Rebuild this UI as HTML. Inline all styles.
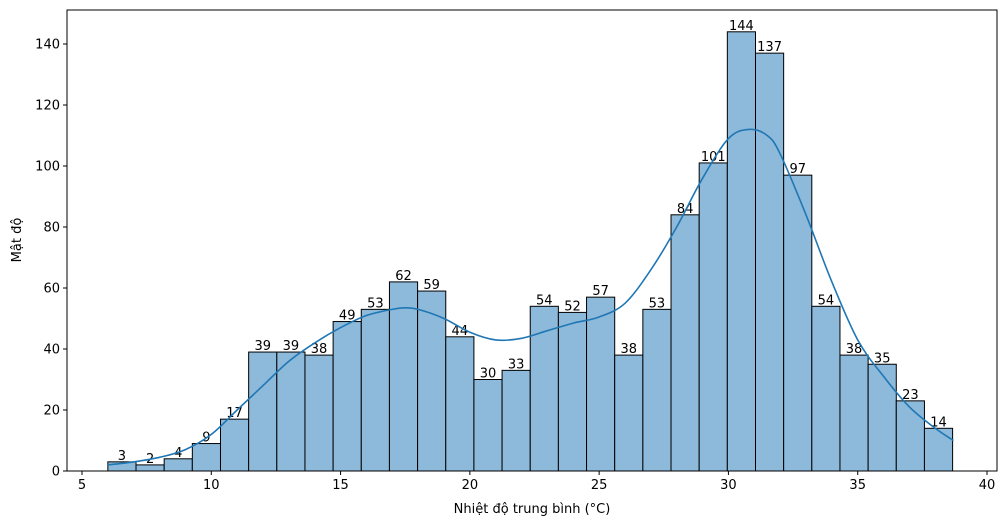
<!DOCTYPE html>
<html><head><meta charset="utf-8">
<style>
html,body{margin:0;padding:0;background:#fff;}
svg{display:block;font-family:"DejaVu Sans","Liberation Sans",sans-serif;}
</style></head>
<body>
<svg id="chart" width="1005" height="525"></svg>
<script>
const binStart = 6.0;
const binWidth = 1.089;
const counts = [3,2,4,9,17,39,39,38,49,53,62,59,44,30,33,54,52,57,38,53,84,101,144,137,97,54,38,35,23,14];
const kdeX = [6.0,7,8,9,10,11,12,13,14,15,16,17,17.5,18,19,20,21,22,23,24,25,26,27,28,29,30,30.8,31.5,32,33,34,35,36,37,38,38.7];
const kdeY = [2,3,4.5,7,12,20,28,36,42,47,51,53,53.5,53,50,45.5,43,43.5,46,48.5,50.5,55,66,80,96,109,112,110,104,84,62,43,31,21,14,10];
const xTicks = [5,10,15,20,25,30,35,40];
const yTicks = [0,20,40,60,80,100,120,140];

const NS = "http://www.w3.org/2000/svg";
const svg = document.getElementById('chart');
const L=67,R=997,T=10,B=471;
const xs = v => 82 + (v-5)*25.857;
const ys = v => 471 - v*3.05;
function mk(tag, attrs, parent){const e=document.createElementNS(NS,tag);for(const k in attrs)e.setAttribute(k,attrs[k]);(parent||svg).appendChild(e);return e;}

const bars = mk('g',{});


counts.forEach((c,i)=>{
  const x0=xs(binStart+i*binWidth), x1=xs(binStart+(i+1)*binWidth);
  const r=mk('rect',{x:x0,y:ys(c),width:x1-x0,height:ys(0)-ys(c),fill:'#8db9da',stroke:'#000','stroke-width':1},bars);
  
  
  const t=mk('text',{x:(x0+x1)/2,y:ys(c)-2,'text-anchor':'middle','font-size':13,fill:'#000'},bars);
  t.textContent=c;
  
  
});

const P = kdeX.map((x,i)=>[xs(x),ys(kdeY[i])]);
let d = 'M'+P[0][0].toFixed(1)+','+P[0][1].toFixed(1);
for(let i=0;i<P.length-1;i++){
  const p0=P[Math.max(0,i-1)],p1=P[i],p2=P[i+1],p3=P[Math.min(P.length-1,i+2)];
  const c1=[p1[0]+(p2[0]-p0[0])/6,p1[1]+(p2[1]-p0[1])/6];
  const c2=[p2[0]-(p3[0]-p1[0])/6,p2[1]-(p3[1]-p1[1])/6];
  d+=' C'+c1[0].toFixed(1)+','+c1[1].toFixed(1)+' '+c2[0].toFixed(1)+','+c2[1].toFixed(1)+' '+p2[0].toFixed(1)+','+p2[1].toFixed(1);
}
const kde = mk('path',{d:d,fill:'none',stroke:'#1f77b4','stroke-width':1.6,'stroke-linejoin':'round'});



const frame = mk('rect',{x:L,y:T,width:R-L,height:B-T,fill:'none',stroke:'#000','stroke-width':1});



xTicks.forEach(v=>{
  mk('line',{x1:xs(v),x2:xs(v),y1:B,y2:B+4,stroke:'#000'});
  const t=mk('text',{x:xs(v),y:B+18,'text-anchor':'middle','font-size':13});
  t.textContent=v;
  
  
});
yTicks.forEach(v=>{
  mk('line',{x1:L-4,x2:L,y1:ys(v),y2:ys(v),stroke:'#000'});
  const t=mk('text',{x:L-7,y:ys(v)+4.5,'text-anchor':'end','font-size':13});
  t.textContent=v;
  
  
});
const xl=mk('text',{x:532,y:513,'text-anchor':'middle','font-size':13});
xl.textContent='Nhiệt độ trung bình (°C)';


const yl=mk('text',{x:21,y:240,'text-anchor':'middle','font-size':13,transform:'rotate(-90 21 240)'});
yl.textContent='Mật độ';


</script>
</body></html>
